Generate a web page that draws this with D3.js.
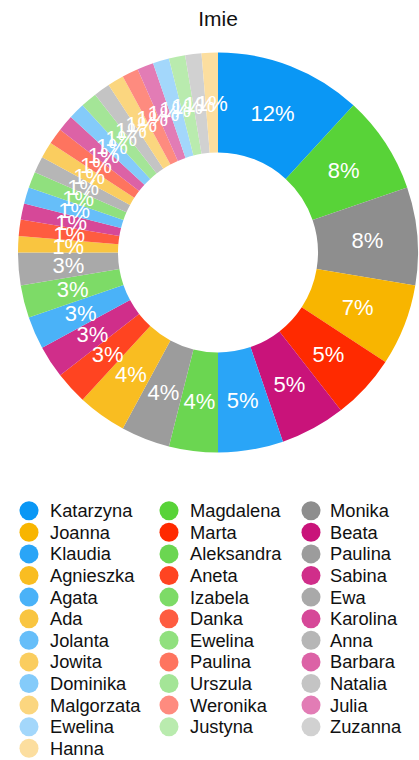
<!DOCTYPE html>
<html>
<head>
<meta charset="utf-8">
<script src="https://cdn.jsdelivr.net/npm/d3@7"></script>
<style>
  html, body { margin: 0; padding: 0; background: #fff; }
  svg { display: block; font-family: "Liberation Sans", Arial, Helvetica, sans-serif; }
</style>
</head>
<body>
<svg id="chart" width="419" height="760"></svg>
<script>
const title = "Imie";
const names = [
  "Katarzyna", "Magdalena", "Monika", "Joanna", "Marta", "Beata",
  "Klaudia", "Aleksandra", "Paulina", "Agnieszka", "Aneta", "Sabina",
  "Agata", "Izabela", "Ewa", "Ada", "Danka", "Karolina",
  "Jolanta", "Ewelina", "Anna", "Jowita", "Paulina", "Barbara",
  "Dominika", "Urszula", "Natalia", "Malgorzata", "Weronika", "Julia",
  "Ewelina", "Justyna", "Zuzanna", "Hanna"
];
const counts = [
  9, 6, 6, 5, 4, 4,
  4, 3, 3, 3, 2, 2,
  2, 2, 2, 1, 1, 1,
  1, 1, 1, 1, 1, 1,
  1, 1, 1, 1, 1, 1,
  1, 1, 1, 1
];
const palette = [
  "#0a97f5", "#58d338", "#8e8e8e", "#f8b500", "#ff2a00", "#c9137a",
  "#2aa5f7", "#6bd651", "#9c9c9c", "#f9bd21", "#ff4421", "#d02e8a",
  "#4ab2f8", "#7ddb67", "#a9a9a9", "#f9c540", "#fe5c40", "#d64898",
  "#66bef9", "#90e07e", "#b6b6b6", "#facd5f", "#fe745f", "#dc62a6",
  "#84cbfa", "#a4e597", "#c4c4c4", "#fbd67f", "#fe8b7f", "#e27cb5",
  "#a3d7fb", "#b9ebae", "#d1d1d1", "#fcde9f"
];

const data = names.map((n, i) => ({ name: n, value: counts[i], color: palette[i] }));
const total = d3.sum(counts);

const svg = d3.select("#chart");

// Title
svg.append("text")
  .attr("x", 218).attr("y", 26)
  .attr("text-anchor", "middle")
  .attr("font-size", 21)
  .attr("fill", "#111")
  .text(title);

// Donut
const cx = 218, cy = 252.5, rOuter = 200, rInner = 100;
const pie = d3.pie().sort(null).value(d => d.value);
const arc = d3.arc().innerRadius(rInner).outerRadius(rOuter);
const arcs = pie(data);

const g = svg.append("g").attr("transform", `translate(${cx},${cy})`);
g.selectAll("path.slice")
  .data(arcs)
  .join("path")
  .attr("class", "slice")
  .attr("d", arc)
  .attr("fill", d => d.data.color);

g.selectAll("text.lbl")
  .data(arcs)
  .join("text")
  .attr("class", "lbl")
  .attr("transform", d => `translate(${arc.centroid(d)})`)
  .attr("text-anchor", "middle")
  .attr("dy", "0.36em")
  .attr("font-size", 22)
  .attr("fill", "#fff")
  .text(d => Math.round(d.data.value / total * 100) + "%");

// Legend
const colDot = [29, 169, 311];
const colText = [50, 190, 330];
const row0 = 510.7, rowStep = 21.6;
const leg = svg.append("g");
const items = leg.selectAll("g.item")
  .data(data)
  .join("g")
  .attr("class", "item")
  .attr("transform", (d, i) => `translate(0,${row0 + Math.floor(i / 3) * rowStep})`);
items.append("circle")
  .attr("cx", (d, i) => colDot[i % 3])
  .attr("cy", 0)
  .attr("r", 9.5)
  .attr("fill", d => d.color);
items.append("text")
  .attr("x", (d, i) => colText[i % 3])
  .attr("y", 6.4)
  .attr("font-size", 18.3)
  .attr("fill", "#111")
  .text(d => d.name);
</script>
</body>
</html>
